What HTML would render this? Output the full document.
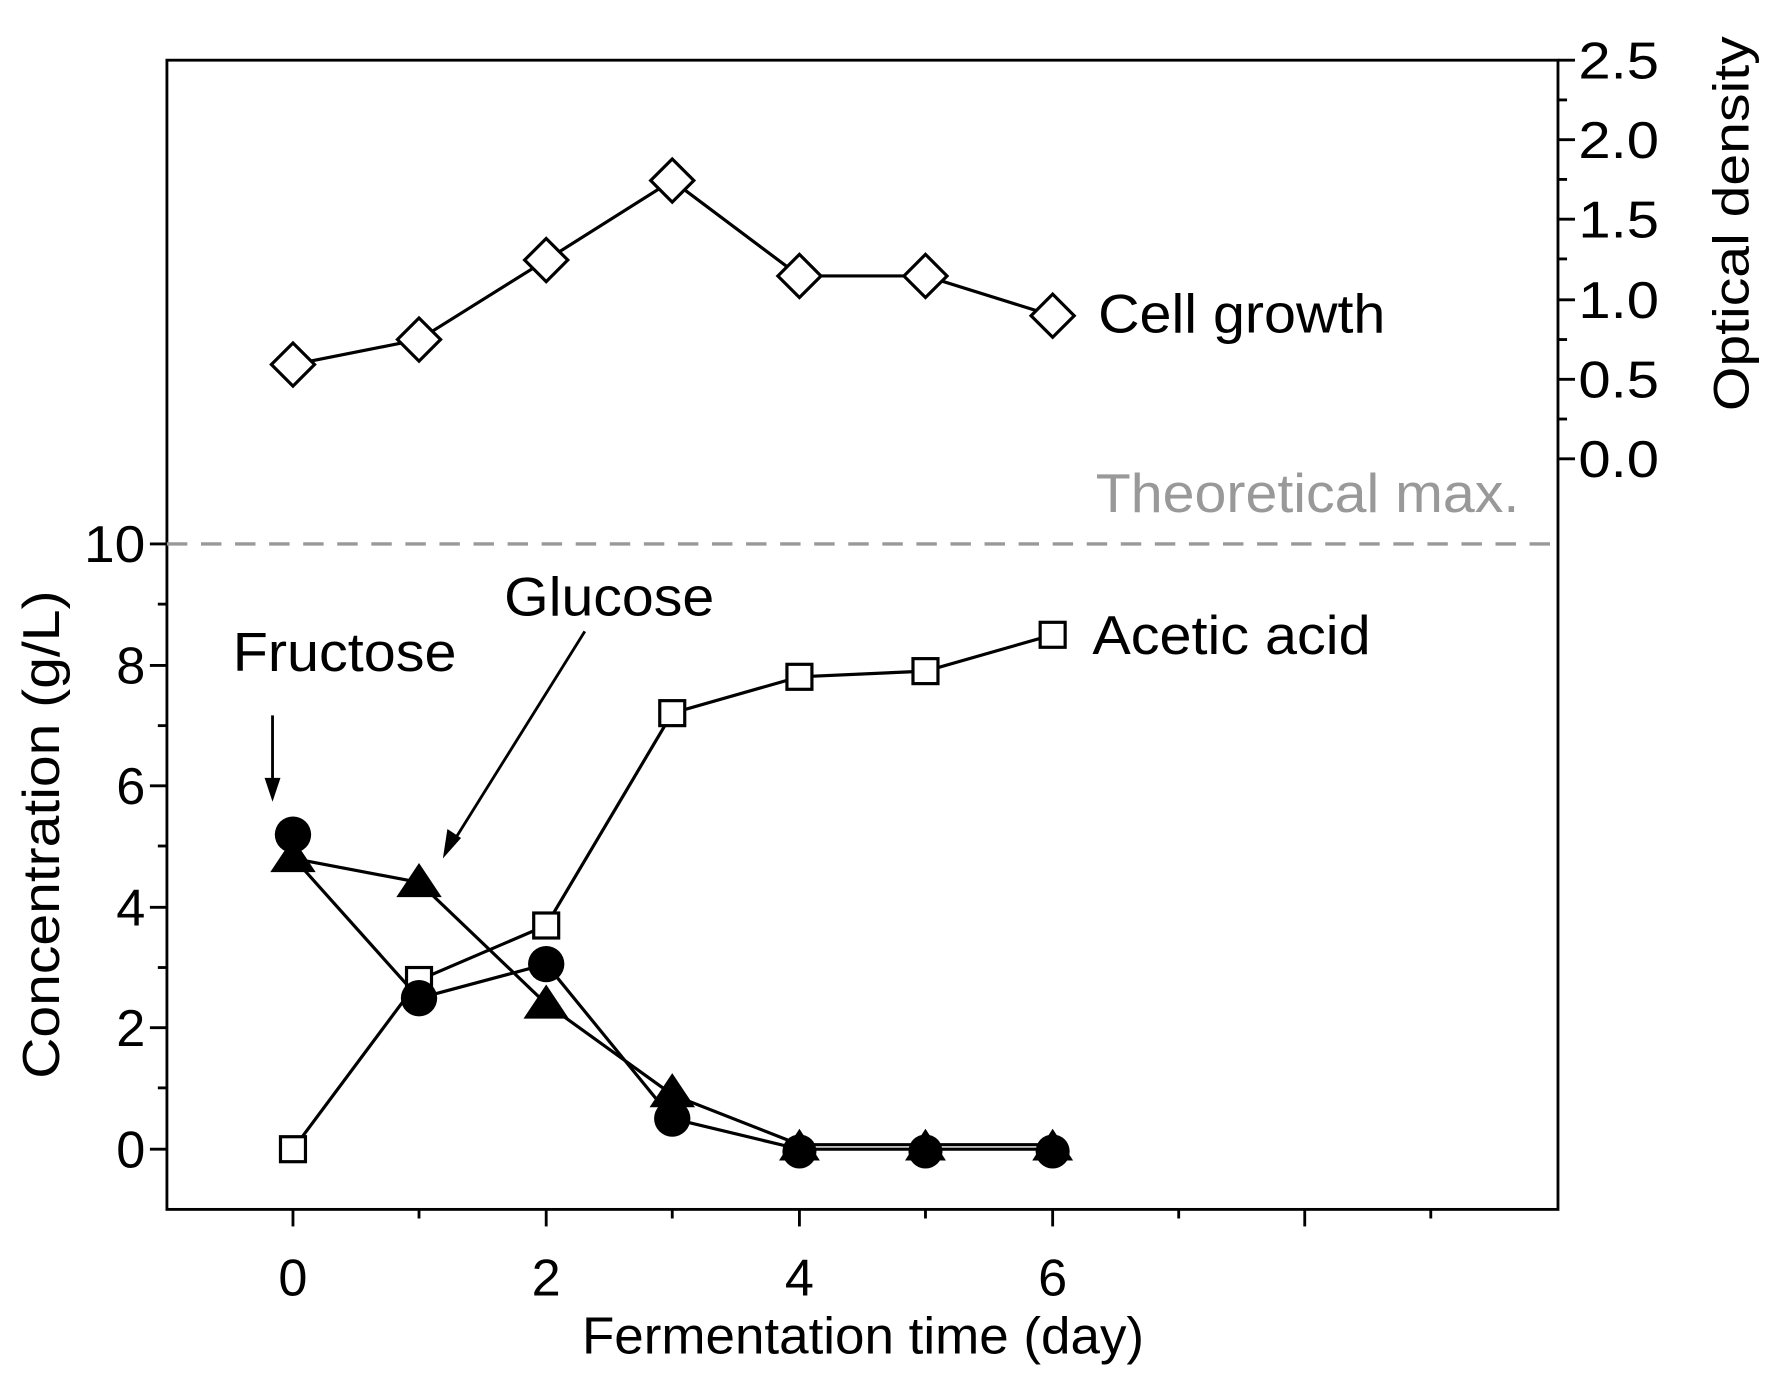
<!DOCTYPE html>
<html><head><style>html,body{margin:0;padding:0;background:#fff}svg{display:block}</style></head>
<body>
<svg width="1776" height="1382" viewBox="0 0 1564 1217" preserveAspectRatio="none" xmlns="http://www.w3.org/2000/svg" font-family="Liberation Sans, sans-serif">
<rect x="147" y="53" width="1225" height="1012" fill="none" stroke="#000" stroke-width="2.5"/>
<g stroke="#000" stroke-width="2.5">
<line x1="258" y1="1065" x2="258" y2="1080"/><line x1="481" y1="1065" x2="481" y2="1080"/><line x1="704" y1="1065" x2="704" y2="1080"/><line x1="927" y1="1065" x2="927" y2="1080"/><line x1="1149" y1="1065" x2="1149" y2="1080"/>
<line x1="369" y1="1065" x2="369" y2="1073"/><line x1="592" y1="1065" x2="592" y2="1073"/><line x1="815" y1="1065" x2="815" y2="1073"/><line x1="1038" y1="1065" x2="1038" y2="1073"/><line x1="1260" y1="1065" x2="1260" y2="1073"/>
<line x1="132" y1="1012" x2="147" y2="1012"/><line x1="132" y1="905" x2="147" y2="905"/><line x1="132" y1="799" x2="147" y2="799"/><line x1="132" y1="692" x2="147" y2="692"/><line x1="132" y1="586" x2="147" y2="586"/><line x1="132" y1="479" x2="147" y2="479"/>
<line x1="139" y1="958" x2="147" y2="958"/><line x1="139" y1="852" x2="147" y2="852"/><line x1="139" y1="745" x2="147" y2="745"/><line x1="139" y1="639" x2="147" y2="639"/><line x1="139" y1="532" x2="147" y2="532"/>
<line x1="1372" y1="404" x2="1387" y2="404"/><line x1="1372" y1="334" x2="1387" y2="334"/><line x1="1372" y1="264" x2="1387" y2="264"/><line x1="1372" y1="193" x2="1387" y2="193"/><line x1="1372" y1="123" x2="1387" y2="123"/><line x1="1372" y1="53" x2="1387" y2="53"/>
<line x1="1372" y1="369" x2="1380" y2="369"/><line x1="1372" y1="299" x2="1380" y2="299"/><line x1="1372" y1="228" x2="1380" y2="228"/><line x1="1372" y1="158" x2="1380" y2="158"/><line x1="1372" y1="88" x2="1380" y2="88"/>
</g>
<line x1="147" y1="479" x2="1372" y2="479" stroke="#999" stroke-width="3" stroke-dasharray="18,12"/>
<g font-size="46" fill="#000" lengthAdjust="spacingAndGlyphs">
<g text-anchor="middle"><text x="258" y="1141">0</text><text x="481" y="1141">2</text><text x="704" y="1141">4</text><text x="927" y="1141">6</text></g>
<g text-anchor="end"><text x="128" y="1028">0</text><text x="128" y="921">2</text><text x="128" y="815">4</text><text x="128" y="708">6</text><text x="128" y="602">8</text><text x="128" y="495" textLength="54" lengthAdjust="spacingAndGlyphs">10</text></g>
<g lengthAdjust="spacingAndGlyphs">
<text x="1390" y="420" textLength="71" lengthAdjust="spacingAndGlyphs">0.0</text><text x="1390" y="350" textLength="71" lengthAdjust="spacingAndGlyphs">0.5</text><text x="1390" y="280" textLength="71" lengthAdjust="spacingAndGlyphs">1.0</text><text x="1390" y="209" textLength="71" lengthAdjust="spacingAndGlyphs">1.5</text><text x="1390" y="139" textLength="71" lengthAdjust="spacingAndGlyphs">2.0</text><text x="1390" y="69" textLength="71" lengthAdjust="spacingAndGlyphs">2.5</text>
</g>
<text x="760" y="1192" text-anchor="middle" textLength="495" lengthAdjust="spacingAndGlyphs" font-size="46">Fermentation time (day)</text>
<text transform="translate(52,735) rotate(-90)" text-anchor="middle" textLength="430" lengthAdjust="spacingAndGlyphs" font-size="46">Concentration (g/L)</text>
<text transform="translate(1540,197) rotate(-90)" text-anchor="middle" textLength="330" lengthAdjust="spacingAndGlyphs" font-size="44">Optical density</text>
<text x="967" y="293" textLength="253" lengthAdjust="spacingAndGlyphs" font-size="48">Cell growth</text>
<text x="962" y="576" textLength="245" lengthAdjust="spacingAndGlyphs" font-size="48">Acetic acid</text>
<text x="444" y="542" textLength="185" lengthAdjust="spacingAndGlyphs" font-size="48">Glucose</text>
<text x="205" y="591" textLength="197" lengthAdjust="spacingAndGlyphs" font-size="48">Fructose</text>
<text x="965" y="451" textLength="373" lengthAdjust="spacingAndGlyphs" font-size="48" fill="#999">Theoretical max.</text>
</g>
<g stroke="#000" stroke-width="2.5" fill="#000">
<line x1="240" y1="630" x2="240" y2="690"/><polygon points="233,685 247,685 240,706" stroke="none"/>
<line x1="515" y1="556" x2="400" y2="740"/><polygon points="394,730 406,738 390,756" stroke="none"/>
</g>
<g fill="none" stroke="#000" stroke-width="2.8">
<polyline points="258,321 369,299 481,229 592,159 704,243 815,243 927,278"/>
<polyline points="258,1012 369,863 481,815 592,628 704,596 815,591 927,559"/>
<polyline points="258,755 369,879 481,849 592,985 704,1012 815,1012 927,1012"/>
<polyline points="258,756 369,777 481,884 592,964 704,1008 815,1008 927,1008"/>
</g>
<g fill="#fff" stroke="#000" stroke-width="2.8">
<g transform="translate(258,321)"><polygon points="0,-19 19,0 0,19 -19,0"/></g>
<g transform="translate(369,299)"><polygon points="0,-19 19,0 0,19 -19,0"/></g>
<g transform="translate(481,229)"><polygon points="0,-19 19,0 0,19 -19,0"/></g>
<g transform="translate(592,159)"><polygon points="0,-19 19,0 0,19 -19,0"/></g>
<g transform="translate(704,243)"><polygon points="0,-19 19,0 0,19 -19,0"/></g>
<g transform="translate(815,243)"><polygon points="0,-19 19,0 0,19 -19,0"/></g>
<g transform="translate(927,278)"><polygon points="0,-19 19,0 0,19 -19,0"/></g>
<rect x="247" y="1001" width="22" height="22"/><rect x="358" y="852" width="22" height="22"/><rect x="470" y="804" width="22" height="22"/><rect x="581" y="617" width="22" height="22"/><rect x="693" y="585" width="22" height="22"/><rect x="804" y="580" width="22" height="22"/><rect x="916" y="548" width="22" height="22"/>
</g>
<g fill="#000">
<circle cx="258" cy="735" r="16"/><circle cx="369" cy="879" r="16"/><circle cx="481" cy="849" r="16"/><circle cx="592" cy="985" r="16"/><circle cx="704" cy="1014" r="15"/><circle cx="815" cy="1014" r="15"/><circle cx="927" cy="1014" r="15"/>
<polygon points="258,738 238,768 278,768"/><polygon points="369,760 349,790 389,790"/><polygon points="481,867 461,897 501,897"/><polygon points="592,945 572,975 612,975"/><polygon points="704,994 686,1022 722,1022"/><polygon points="815,994 797,1022 833,1022"/><polygon points="927,994 909,1022 945,1022"/>
</g>
</svg>
</body></html>
